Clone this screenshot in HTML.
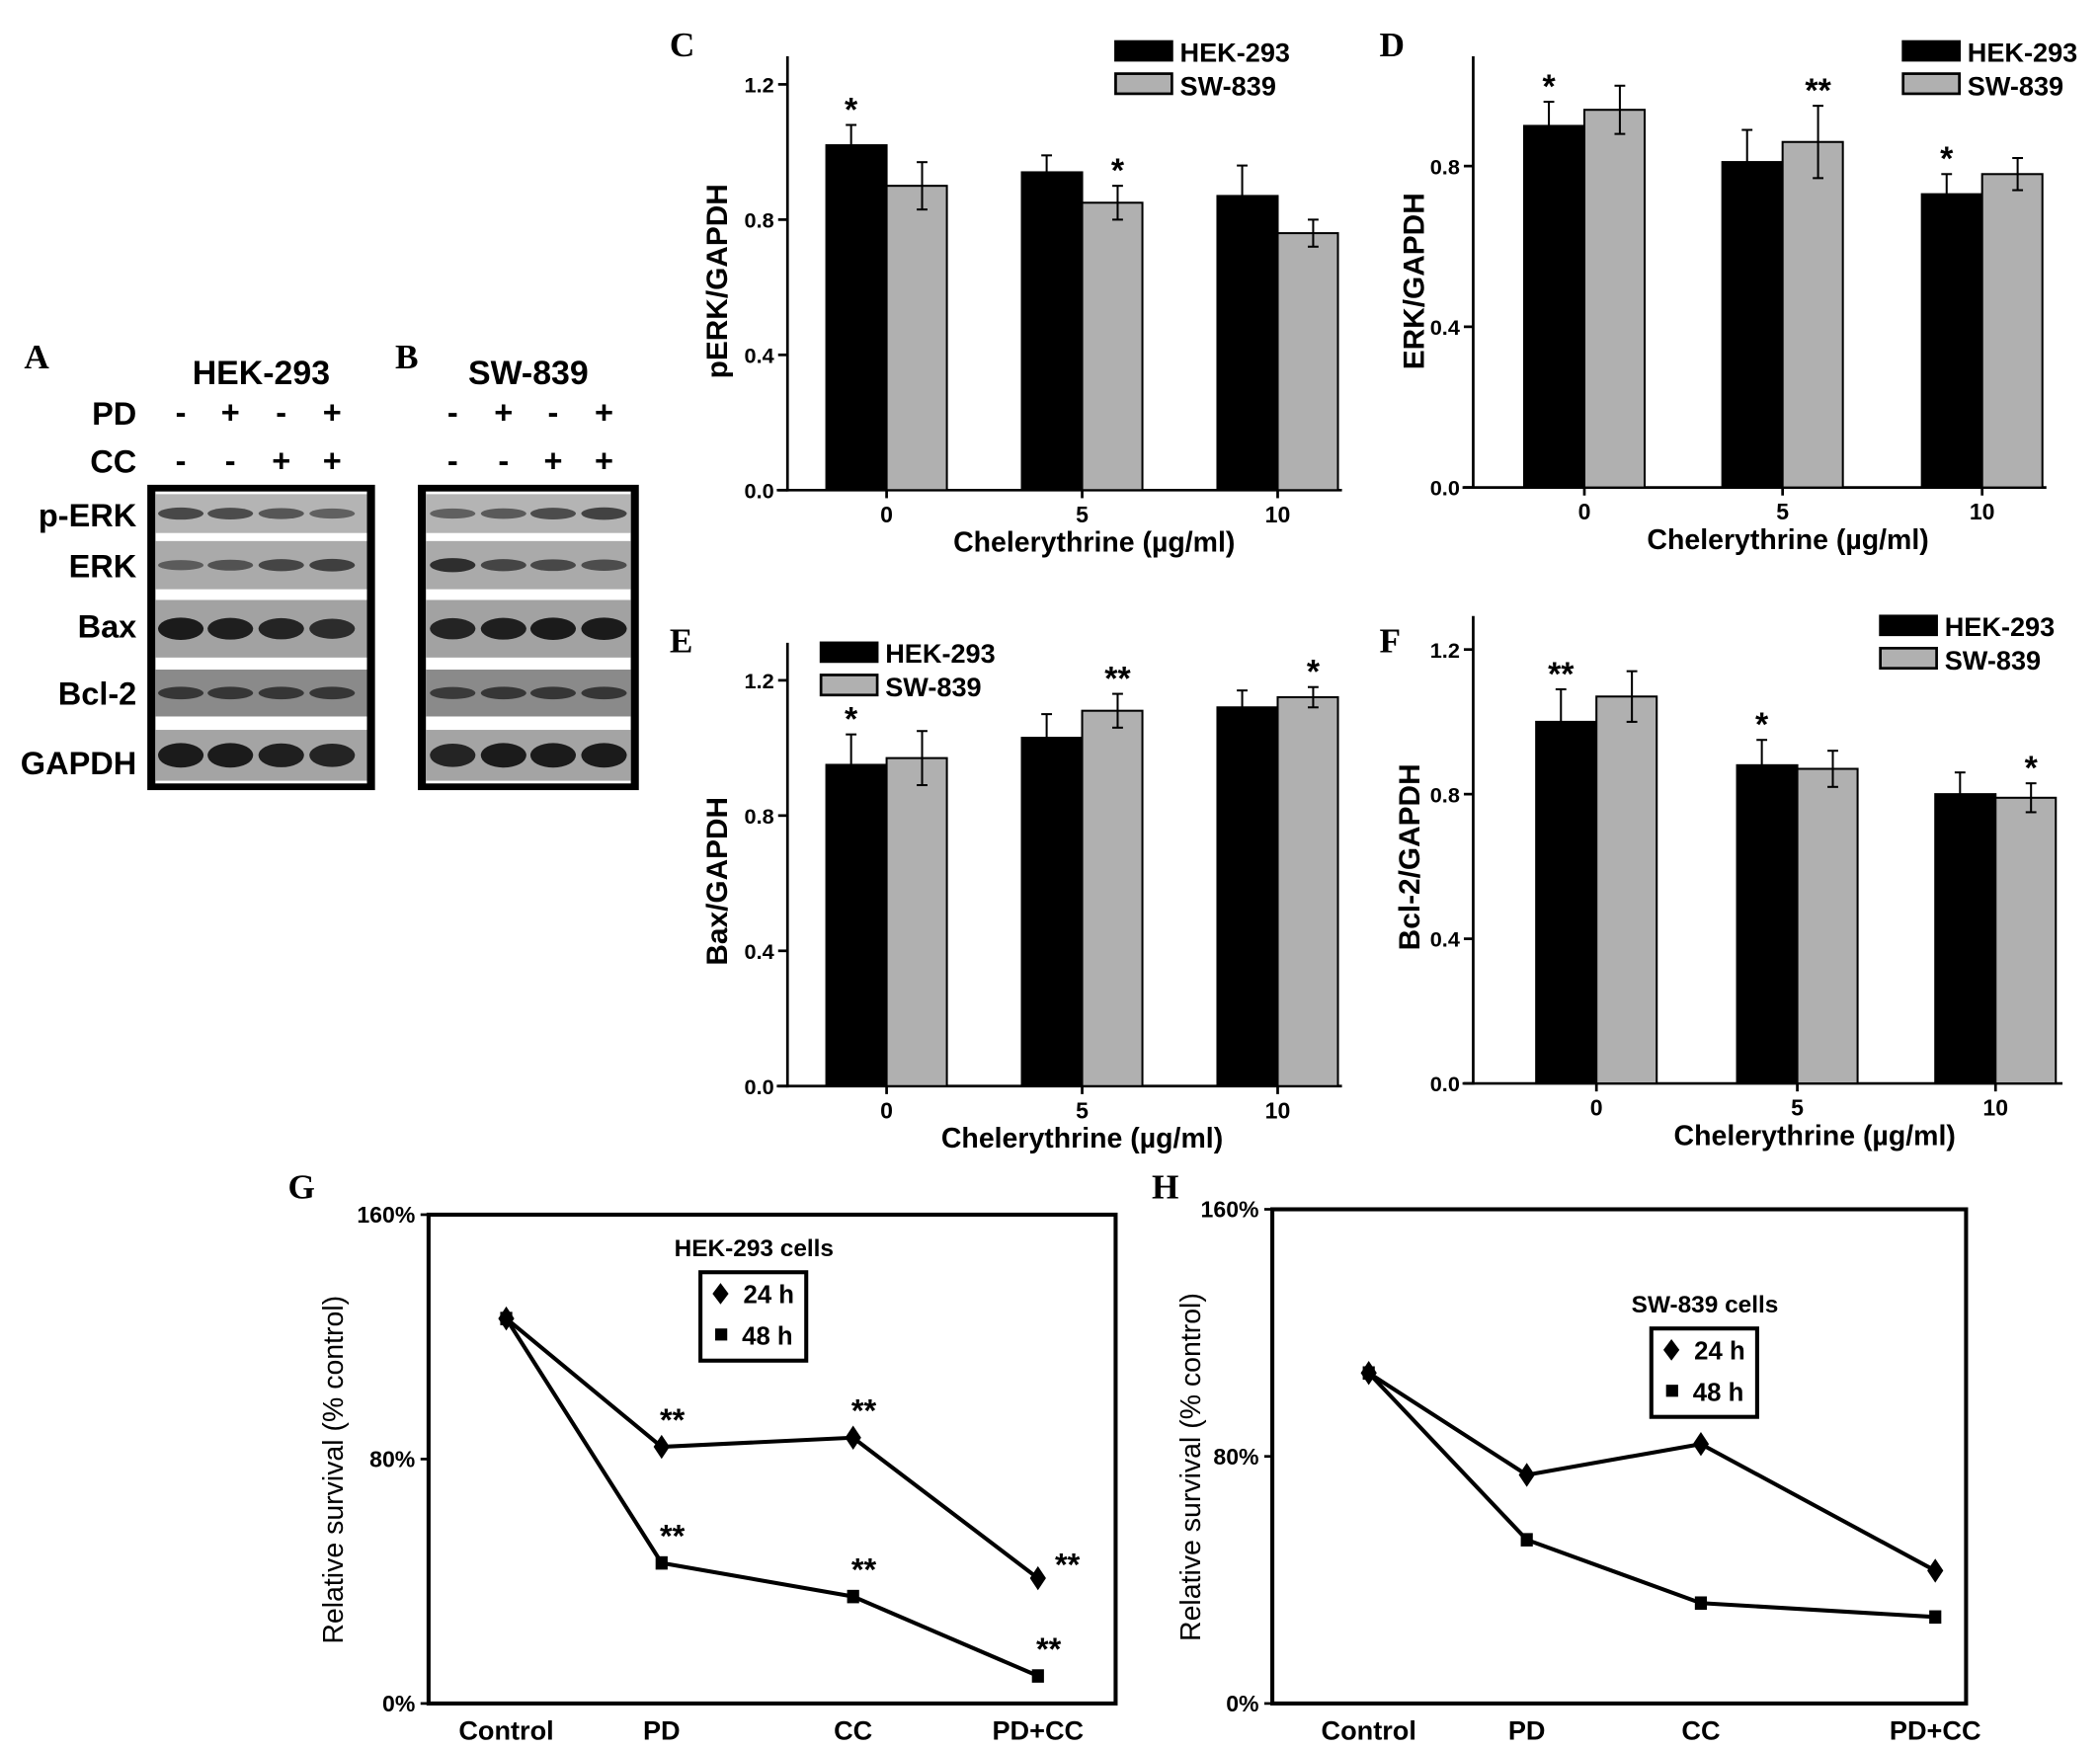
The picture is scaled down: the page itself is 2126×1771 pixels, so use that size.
<!DOCTYPE html>
<html><head><meta charset="utf-8"><style>
html,body{margin:0;padding:0;background:#fff;}
svg{display:block;font-family:"Liberation Sans",Arial,sans-serif;}
.b{font-weight:bold;}
.let{font-family:"Liberation Serif",serif;font-weight:bold;font-size:26px;}
</style></head><body>
<svg id="fig" width="2126" height="1771" viewBox="0 0 1568 1306" preserveAspectRatio="none" xmlns="http://www.w3.org/2000/svg">
<rect width="1568" height="1306" fill="#fff"/>
<g id="blots"></g>
<g id="charts"></g>
</svg>
<script>
// ---- Bar chart data ----
const doses = ["0","5","10"];
const cHek = [1.02,0.94,0.87], cHekErr=[0.06,0.05,0.09];
const cSw  = [0.90,0.85,0.76], cSwErr=[0.07,0.05,0.04];
const cStarsHek=["*","",""], cStarsSw=["","*",""];
const dHek = [0.90,0.81,0.73], dHekErr=[0.06,0.08,0.05];
const dSw  = [0.94,0.86,0.78], dSwErr=[0.06,0.09,0.04];
const dStarsHek=["*","","*"], dStarsSw=["","**",""];
const eHek = [0.95,1.03,1.12], eHekErr=[0.09,0.07,0.05];
const eSw  = [0.97,1.11,1.15], eSwErr=[0.08,0.05,0.03];
const eStarsHek=["*","",""], eStarsSw=["","**","*"];
const fHek = [1.00,0.88,0.80], fHekErr=[0.09,0.07,0.06];
const fSw  = [1.07,0.87,0.79], fSwErr=[0.07,0.05,0.04];
const fStarsHek=["**","*",""], fStarsSw=["","","*"];
const ticksCE=[0,0.4,0.8,1.2], ticksD=[0,0.4,0.8], ticksF=[0,0.4,0.8,1.2];
// ---- Line chart data ----
const groups=["Control","PD","CC","PD+CC"];
const gH24=[126,84,87,41], gH48=[126,46,35,9];
const gStars24=["","**","**","**"], gStars48=["","**","**","**"];
const hS24=[107,74,84,43], hS48=[107,53,32.5,28];
const pctTicks=[0,80,160];

const NS="http://www.w3.org/2000/svg";
function el(parent,tag,attrs,text){const e=document.createElementNS(NS,tag);for(const k in attrs)e.setAttribute(k,attrs[k]);if(text!==undefined)e.textContent=text;parent.appendChild(e);return e;}
const root=document.getElementById('charts');

function barChart(o){
  const g=el(root,'g',{});
  
  
  const y=v=>o.y0-(v)*o.ppu;
  const L=el(g,'text',{x:o.letX,y:o.letY,class:'let'},o.letter);
   
  const ya=el(g,'line',{x1:o.ax,y1:o.top,x2:o.ax,y2:o.y0+1,stroke:'#000','stroke-width':2});
   
  const xa=el(g,'line',{x1:o.ax-8,y1:o.y0,x2:o.right,y2:o.y0,stroke:'#000','stroke-width':2});
   
  o.ticks.forEach(t=>{
    el(g,'line',{x1:o.ax-7,y1:y(t),x2:o.ax,y2:y(t),stroke:'#000','stroke-width':2});
    const tl=el(g,'text',{x:o.ax-10,y:y(t)+6,'text-anchor':'end','font-size':16,class:'b'},t.toFixed(1));
     
  });
  const bw=45;
  doses.forEach((d,i)=>{
    const cx=o.cx[i];
    el(g,'line',{x1:cx,y1:o.y0,x2:cx,y2:o.y0+6,stroke:'#000','stroke-width':2});
    const xl=el(g,'text',{x:cx,y:o.y0+24,'text-anchor':'middle','font-size':17,class:'b'},d);
     
    [[o.hek,o.hekErr,o.sHek,cx-bw,'#000'],[o.sw,o.swErr,o.sSw,cx,'#b0b0b0']].forEach(([vals,err,st,x,f],k)=>{
      const v=vals[i];
      const r=el(g,'rect',{x:x,y:y(v),width:bw,height:o.y0-y(v),fill:f,stroke:'#000','stroke-width':1.5});
      
      
      const ex=x+bw/2+(k?4:-4);
      el(g,'line',{x1:ex,y1:y(v+err[i]),x2:ex,y2:y(v-(k?err[i]:0)),stroke:'#000','stroke-width':1.5});
      el(g,'line',{x1:ex-4,y1:y(v+err[i]),x2:ex+4,y2:y(v+err[i]),stroke:'#000','stroke-width':1.5});
      if(k) el(g,'line',{x1:ex-4,y1:y(v-err[i]),x2:ex+4,y2:y(v-err[i]),stroke:'#000','stroke-width':1.5});
      if(st[i]){const s=el(g,'text',{x:ex,y:y(v+err[i])-3,'text-anchor':'middle','font-size':25,class:'b'},st[i]);
         }
    });
  });
  const lg=el(g,'g',{});
   
  el(lg,'rect',{x:o.lx,y:o.ly,width:44,height:16,fill:'#000'});
  el(lg,'text',{x:o.lx+49,y:o.ly+16,'font-size':20,class:'b'},'HEK-293');
  el(lg,'rect',{x:o.lx+1,y:o.ly+25,width:42,height:15,fill:'#b0b0b0',stroke:'#000','stroke-width':2});
  el(lg,'text',{x:o.lx+49,y:o.ly+41,'font-size':20,class:'b'},'SW-839');
  const xt=el(g,'text',{x:o.xlx,y:o.y0+46,'text-anchor':'middle','font-size':21,class:'b'},'Chelerythrine (µg/ml)');
   
  const yt=el(g,'text',{x:0,y:0,'text-anchor':'middle','font-size':22,class:'b',transform:`translate(${o.ylx},${o.yly}) rotate(-90)`},o.ylabel);
   
}
barChart({name:'chart-c-perk',letter:'C',letX:500,letY:42,ax:588,top:42,y0:366,ppu:252.5,right:1002,cx:[662,808,954],hek:cHek,hekErr:cHekErr,sw:cSw,swErr:cSwErr,sHek:cStarsHek,sSw:cStarsSw,ticks:ticksCE,lx:832,ly:30,xlx:817,ylx:543,yly:210,ylabel:'pERK/GAPDH'});
barChart({name:'chart-d-erk',letter:'D',letX:1030,letY:42,ax:1100,top:42,y0:364,ppu:300,right:1528,cx:[1183,1331,1480],hek:dHek,hekErr:dHekErr,sw:dSw,swErr:dSwErr,sHek:dStarsHek,sSw:dStarsSw,ticks:ticksD,lx:1420,ly:30,xlx:1335,ylx:1063,yly:210,ylabel:'ERK/GAPDH'});
barChart({name:'chart-e-bax',letter:'E',letX:500,letY:487,ax:588,top:480,y0:811,ppu:252.5,right:1002,cx:[662,808,954],hek:eHek,hekErr:eHekErr,sw:eSw,swErr:eSwErr,sHek:eStarsHek,sSw:eStarsSw,ticks:ticksCE,lx:612,ly:479,xlx:808,ylx:543,yly:658,ylabel:'Bax/GAPDH'});
barChart({name:'chart-f-bcl2',letter:'F',letX:1030,letY:487,ax:1100,top:460,y0:809,ppu:270,right:1540,cx:[1192,1342,1490],hek:fHek,hekErr:fHekErr,sw:fSw,swErr:fSwErr,sHek:fStarsHek,sSw:fStarsSw,ticks:ticksF,lx:1403,ly:459,xlx:1355,ylx:1060,yly:640,ylabel:'Bcl-2/GAPDH'});

function lineChart(o){
  const g=el(root,'g',{});
  
  
  const y=v=>o.y0-v*(o.y0-o.top)/160;
  const L=el(g,'text',{x:o.letX,y:o.letY,class:'let'},o.letter);
   
  const f=el(g,'rect',{x:o.x0,y:o.top,width:o.x1-o.x0,height:o.y0-o.top,fill:'none',stroke:'#000','stroke-width':3});
   
  pctTicks.forEach(t=>{
    el(g,'line',{x1:o.x0-6,y1:y(t),x2:o.x0,y2:y(t),stroke:'#000','stroke-width':2});
    const tl=el(g,'text',{x:o.x0-10,y:y(t)+6,'text-anchor':'end','font-size':17,class:'b'},t+'%');
     
  });
  groups.forEach((c,i)=>{const t=el(g,'text',{x:o.cx[i],y:o.y0+27,'text-anchor':'middle','font-size':20,class:'b'},c);
     });
  [[o.s24,'24'],[o.s48,'48']].forEach(([vals,h])=>{
    const pts=vals.map((v,i)=>o.cx[i]+','+y(v)).join(' ');
    const pl=el(g,'polyline',{points:pts,fill:'none',stroke:'#000','stroke-width':3});
     
    vals.forEach((v,i)=>{
      const cx=o.cx[i],cy=y(v);
      let m;
      if(h==='24') m=el(g,'polygon',{points:`${cx},${cy-9} ${cx+6},${cy} ${cx},${cy+9} ${cx-6},${cy}`,fill:'#000'});
      else m=el(g,'rect',{x:cx-4.5,y:cy-5,width:9,height:10,fill:'#000'});
       
      const st=h==='24'?o.st24:o.st48;
      if(st&&st[i]){const dx=(i===3&&h==='24')?22:8;const dy=(i===3&&h==='24')?-2:-12;
        const s=el(g,'text',{x:cx+dx,y:cy+dy,'text-anchor':'middle','font-size':24,class:'b'},st[i]);
         }
    });
  });
  const tt=el(g,'text',{x:o.lgx+40,y:o.lgy-12,'text-anchor':'middle','font-size':18,class:'b'},o.title);
   
  const lg=el(g,'g',{});
   
  el(lg,'rect',{x:o.lgx,y:o.lgy,width:79,height:66,fill:'#fff',stroke:'#000','stroke-width':3});
  const dx=o.lgx+15,dy=o.lgy+16;
  el(lg,'polygon',{points:`${dx},${dy-8} ${dx+6},${dy} ${dx},${dy+8} ${dx-6},${dy}`,fill:'#000'});
  el(lg,'text',{x:o.lgx+32,y:dy+7,'font-size':19,class:'b'},'24 h');
  el(lg,'rect',{x:dx-4,y:o.lgy+42,width:9,height:9,fill:'#000'});
  el(lg,'text',{x:o.lgx+31,y:o.lgy+54,'font-size':19,class:'b'},'48 h');
  const yt=el(g,'text',{x:0,y:0,'text-anchor':'middle','font-size':21,transform:`translate(${o.ylx},${(o.top+o.y0)/2+8}) rotate(-90)`},'Relative survival (% control)');
   
}
lineChart({name:'chart-g-hek293-survival',letter:'G',letX:215,letY:895,x0:320,x1:833,top:907,y0:1272,cx:[378,494,637,775],s24:gH24,s48:gH48,st24:gStars24,st48:gStars48,title:'HEK-293 cells',lgx:523,lgy:950,ylx:256});
lineChart({name:'chart-h-sw839-survival',letter:'H',letX:860,letY:895,x0:950,x1:1468,top:903,y0:1272,cx:[1022,1140,1270,1445],s24:hS24,s48:hS48,st24:null,st48:null,title:'SW-839 cells',lgx:1233,lgy:992,ylx:896});

// ---- Blots ----
const broot=document.getElementById('blots');
const rowNames=["p-ERK","ERK","Bax","Bcl-2","GAPDH"];
const strips=[[369,398,'#b4b4b4'],[404,440,'#aaaaaa'],[448,491,'#a2a2a2'],[500,535,'#8a8a8a'],[545,583,'#a4a4a4']];
const bandA=[[0.55,0.5,0.4,0.3],[0.3,0.4,0.55,0.6],[1,0.95,0.9,0.8],[0.6,0.6,0.6,0.6],[1,1,0.95,0.9]];
const bandB=[[0.3,0.35,0.5,0.6],[0.8,0.55,0.5,0.45],[0.9,0.95,1,1],[0.55,0.6,0.6,0.6],[0.9,1,1,1]];
const bandH=[7,7,10,7,11];
function blot(name,x0,x1,lanes,bands,title,letter,letX,pd,cc){
  const g=el(broot,'g',{});
   
  el(g,'text',{x:letX,y:275,class:'let'},letter);
  el(g,'text',{x:(x0+x1)/2,y:287,'text-anchor':'middle','font-size':25,class:'b'},title);
  el(g,'rect',{x:x0,y:362,width:x1-x0,height:228,fill:'#000'});
  el(g,'rect',{x:x0+6,y:367,width:x1-x0-12,height:218,fill:'#fff'});
  strips.forEach((s,r)=>{
    el(g,'rect',{x:x0+6,y:s[0],width:x1-x0-12,height:s[1]-s[0],fill:s[2]});
    lanes.forEach((lx,j)=>{
      const a=bands[r][j];
      const b=el(g,'ellipse',{cx:lx,cy:(s[0]+s[1])/2,rx:17,ry:bandH[r]*(0.5+a*0.5)/1.2,fill:`rgba(20,20,20,${0.35+0.6*a})`});
       
    });
  });
  lanes.forEach((lx,j)=>{
    el(g,'text',{x:lx,y:316,'text-anchor':'middle','font-size':24,class:'b'},pd[j]);
    el(g,'text',{x:lx,y:352,'text-anchor':'middle','font-size':24,class:'b'},cc[j]);
  });
}
blot('blot-a-hek293',110,280,[135,172,210,248],bandA,'HEK-293','A',18,['-','+','-','+'],['-','-','+','+']);
blot('blot-b-sw839',312,477,[338,376,413,451],bandB,'SW-839','B',295,['-','+','-','+'],['-','-','+','+']);
const rowY=[393,431,476,526,578];
rowNames.forEach((n,i)=>{const t=el(broot,'text',{x:102,y:rowY[i],'text-anchor':'end','font-size':24,class:'b'},n);
   });
el(broot,'text',{x:102,y:317,'text-anchor':'end','font-size':24,class:'b'},'PD');
el(broot,'text',{x:102,y:353,'text-anchor':'end','font-size':24,class:'b'},'CC');
</script>
</body></html>
